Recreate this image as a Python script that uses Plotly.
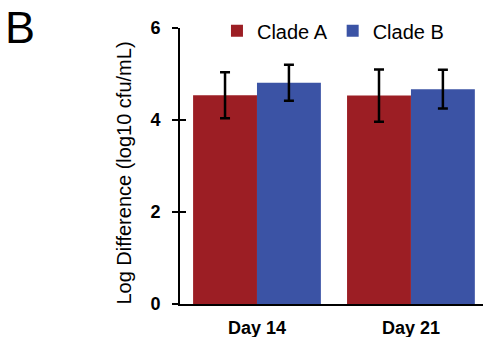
import plotly.graph_objects as go

categories = ["Day 14", "Day 21"]
clade_a = [4.54, 4.53]
clade_a_err = [0.50, 0.57]
clade_b = [4.81, 4.67]
clade_b_err = [0.39, 0.42]
y_ticks = [0, 2, 4, 6]

FONT = "Arial, Liberation Sans, sans-serif"
RED = "#9c1e24"
BLUE = "#3b53a5"

fig = go.Figure()
fig.add_trace(go.Bar(
    name="Clade A", x=categories, y=clade_a, marker_color=RED,
    marker_line_width=0,
    error_y=dict(type="data", array=clade_a_err, color="black", thickness=2.5, width=5),
))
fig.add_trace(go.Bar(
    name="Clade B", x=categories, y=clade_b, marker_color=BLUE,
    marker_line_width=0,
    error_y=dict(type="data", array=clade_b_err, color="black", thickness=2.5, width=5),
))
# invisible trace to carry the inside half of the cross ticks
fig.add_trace(go.Scatter(x=categories, y=clade_a, yaxis="y2", mode="none",
                         showlegend=False, hoverinfo="skip"))

fig.update_layout(
    width=483, height=337,
    margin=dict(l=180, r=0, t=28, b=33),
    paper_bgcolor="white", plot_bgcolor="white",
    barmode="group", bargap=0.17, bargroupgap=0,
    font=dict(family=FONT, color="black"),
    showlegend=True,
    legend=dict(orientation="h", x=0.122, xanchor="left", y=0.99, yanchor="middle",
                font=dict(size=20, family=FONT, color="black"),
                bgcolor="rgba(0,0,0,0)", itemwidth=30, tracegroupgap=0),
    xaxis=dict(range=[-0.5, 1.468], showline=True, linecolor="black", linewidth=2,
               ticks="", showgrid=False, zeroline=False,
               tickfont=dict(size=18, family=FONT, color="black", weight="bold"),
               ticklabelstandoff=6),
    yaxis=dict(range=[0, 6], tickvals=y_ticks, showline=True, linecolor="black", linewidth=2,
               ticks="outside", ticklen=6, tickwidth=2, tickcolor="black",
               showgrid=False, zeroline=False,
               tickfont=dict(size=18, family=FONT, color="black", weight="bold"),
               ticklabelstandoff=8),
    yaxis2=dict(range=[0, 6], tickvals=y_ticks, overlaying="y", side="left",
                showline=False, ticks="inside", ticklen=6, tickwidth=2, tickcolor="black",
                showticklabels=False, showgrid=False, zeroline=False),
    annotations=[
        dict(text="Log Difference (log10 cfu/mL)", textangle=-90, xref="paper", yref="paper",
             x=-0.185, y=0.476, xanchor="center", yanchor="middle", showarrow=False,
             font=dict(size=20, family=FONT, color="black")),
        dict(text="B", xref="paper", yref="paper", x=-0.585, y=1.10, xanchor="left",
             yanchor="top", showarrow=False, font=dict(size=45, family=FONT, color="black")),
    ],
)

fig.write_html("out.html", config={"displayModeBar": False},
               post_script="document.body.style.margin='0';")
